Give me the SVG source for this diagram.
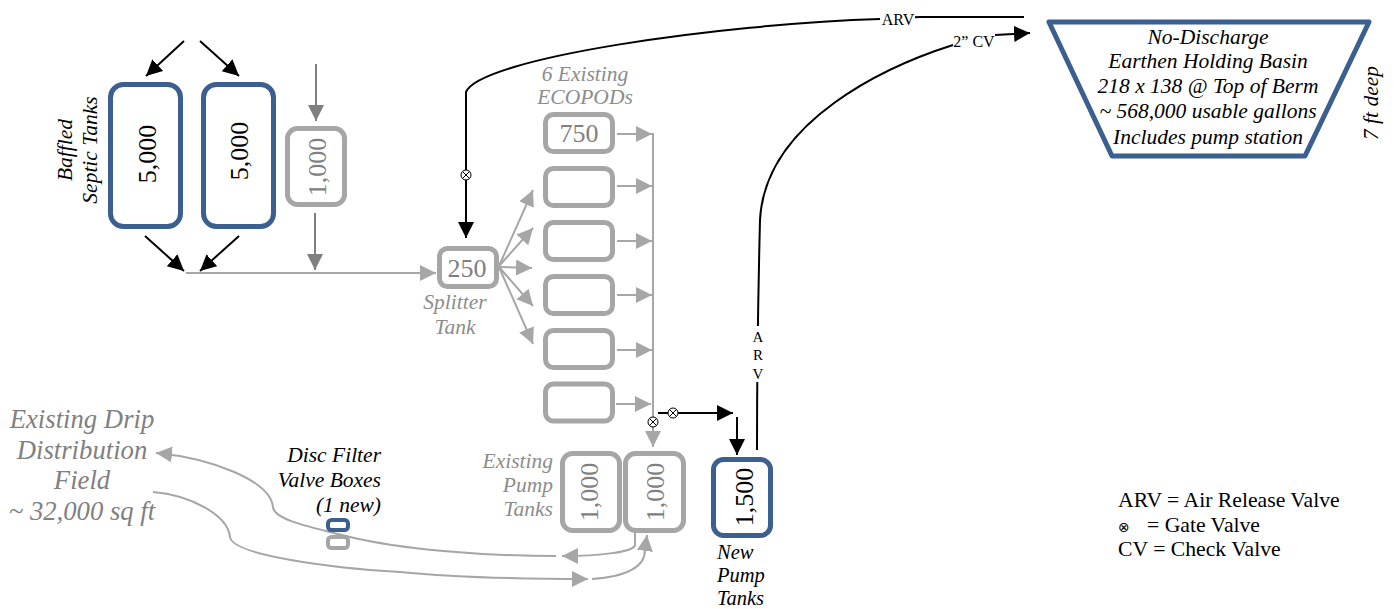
<svg xmlns="http://www.w3.org/2000/svg" width="1395" height="609" viewBox="0 0 1395 609">
<style>
text{font-family:"Liberation Serif","Times New Roman",serif}
.blue{fill:#fff;stroke:#3b5f8f;stroke-width:5}
.grey{fill:#fff;stroke:#a6a6a6;stroke-width:5}
.num{font-size:26px;text-anchor:middle;fill:#000}
.gn{fill:#808080}
.it{font-style:italic;font-size:21.5px;fill:#000}
.git{font-style:italic;font-size:21.5px;fill:#8c8c8c}
.mid{text-anchor:middle}
.end{text-anchor:end}
.k{fill:none;stroke:#000;stroke-width:2;marker-end:url(#ak)}
.kn{fill:none;stroke:#000;stroke-width:2}
.g{fill:none;stroke:#a6a6a6;stroke-width:2;marker-end:url(#ag)}
.gp{fill:none;stroke:#a6a6a6;stroke-width:2}
.d{fill:none;stroke:#7f7f7f;stroke-width:2;marker-end:url(#ad)}
.lab{font-size:16px;fill:#000;text-anchor:middle}
.bg{fill:#fff;stroke:none}
.v circle{fill:#fff;stroke:#000;stroke-width:1}
.v path{stroke:#000;stroke-width:1;fill:none}
</style>
<defs>
<marker id="ak" markerUnits="userSpaceOnUse" markerWidth="18" markerHeight="18" refX="16" refY="8" orient="auto"><path d="M0 0L16 8L0 16z" fill="#000"/></marker>
<marker id="ag" markerUnits="userSpaceOnUse" markerWidth="18" markerHeight="18" refX="16" refY="8" orient="auto"><path d="M0 0L16 8L0 16z" fill="#a6a6a6"/></marker>
<marker id="ad" markerUnits="userSpaceOnUse" markerWidth="18" markerHeight="18" refX="16" refY="8" orient="auto"><path d="M0 0L16 8L0 16z" fill="#7f7f7f"/></marker>
<g id="valve" class="v"><circle r="5"/><path d="M-3.500-3.500L3.500 3.500M-3.500 3.500L3.500-3.500"/></g>
</defs>
<g id="connectors">
<path class="k" d="M184 41L146 76"/>
<path class="k" d="M200 41L239 76"/>
<path class="k" d="M145 236L184 271"/>
<path class="k" d="M239 236L200 271"/>
<path class="d" d="M316 64V121"/>
<path class="d" d="M315 213V270"/>
<path class="g" d="M186 273H436"/>
<path class="k" d="M1024 17L920 17L880 19C720 24 480 58 466 92V238"/>
<rect class="bg" x="880" y="11" width="35" height="16"/>
<text class="lab" x="898" y="25">ARV</text>
<path class="kn" d="M757 450C757 380 758 300 760 220C765 120 890 65 953 45"/>
<path class="k" d="M995 35L1030 33"/>
<rect class="bg" x="752" y="326" width="13" height="56"/>
<text class="lab" x="758" y="342" style="font-size:15px">A</text>
<text class="lab" x="758" y="360" style="font-size:15px">R</text>
<text class="lab" x="758" y="379" style="font-size:15px">V</text>
<text class="lab" x="974" y="47">2” CV</text>
<path class="g" d="M499 266L533 190"/>
<path class="g" d="M499 266L533 228"/>
<path class="g" d="M499 267L532 268"/>
<path class="g" d="M499 267L533 306"/>
<path class="g" d="M499 267L533 344"/>
<path class="g" d="M617 134H652"/>
<path class="g" d="M617 186H652"/>
<path class="g" d="M617 241H652"/>
<path class="g" d="M617 295H652"/>
<path class="g" d="M617 350H652"/>
<path class="g" d="M616 404H651"/>
<path class="gp" d="M653 133V420"/>
<path class="g" d="M653 426V447"/>
<path class="k" d="M658 413H733"/>
<path class="k" d="M737 417V455"/>
<use href="#valve" x="466" y="175"/>
<use href="#valve" x="653" y="422"/>
<use href="#valve" x="673" y="413"/>
<path class="g" d="M635 533V545C634 552 600 556 562 556"/>
<path class="g" d="M556 556C480 556 400 549 350 537C310 527 274 520 273 507C270 480 210 458 156 453"/>
<path class="g" d="M153 492C190 495 228 515 230 537C232 555 330 568 400 572C450 577 520 579 588 579"/>
<path class="g" d="M592 579C620 577 645 570 645 550L647 535"/>
</g>
<g id="tank-septic-1"><rect class="blue" x="110.500" y="84.500" width="70" height="142" rx="13"/><text class="num" transform="translate(156 154) rotate(-90)">5,000</text></g>
<g id="tank-septic-2"><rect class="blue" x="203.500" y="84.500" width="70" height="142" rx="13"/><text class="num" transform="translate(248 151) rotate(-90)">5,000</text></g>
<g id="tank-1000"><rect class="grey" x="287.500" y="128.500" width="57" height="76" rx="10"/><text class="num gn" transform="translate(326 167) rotate(-90)">1,000</text></g>
<text class="it mid" transform="translate(72 150) rotate(-90)">Baffled</text>
<text class="it mid" transform="translate(97 150) rotate(-90)">Septic Tanks</text>
<g id="tank-splitter"><rect class="grey" x="439.500" y="248.500" width="57" height="38" rx="8"/><text class="num gn" x="467" y="277">250</text></g>
<text class="git mid" x="455" y="309">Splitter</text>
<text class="git mid" x="455" y="334">Tank</text>
<text class="git mid" x="585" y="81">6 Existing</text>
<text class="git mid" x="585" y="104">ECOPODs</text>
<g id="ecopod-1"><rect class="grey" x="545.500" y="114.500" width="67" height="37" rx="8"/><text class="num gn" x="579" y="142">750</text></g>
<g id="ecopod-2"><rect class="grey" x="545.500" y="168.500" width="67" height="37" rx="8"/></g>
<g id="ecopod-3"><rect class="grey" x="545.500" y="222.500" width="67" height="37" rx="8"/></g>
<g id="ecopod-4"><rect class="grey" x="545.500" y="276.500" width="67" height="37" rx="8"/></g>
<g id="ecopod-5"><rect class="grey" x="545.500" y="330.500" width="67" height="37" rx="8"/></g>
<g id="ecopod-6"><rect class="grey" x="545.500" y="384" width="67" height="37" rx="8"/></g>
<g id="pump-existing-1"><rect class="grey" x="562.500" y="453.500" width="57" height="77" rx="10"/><text class="num gn" transform="translate(598 492) rotate(-90)">1,000</text></g>
<g id="pump-existing-2"><rect class="grey" x="625.500" y="453.500" width="58" height="77" rx="10"/><text class="num gn" transform="translate(664 492) rotate(-90)">1,000</text></g>
<text class="git end" x="553" y="468">Existing</text>
<text class="git end" x="553" y="492">Pump</text>
<text class="git end" x="553" y="516">Tanks</text>
<g id="pump-new"><rect class="blue" x="713.500" y="459.500" width="57" height="76" rx="10"/><text class="num" transform="translate(753 497) rotate(-90)">1,500</text></g>
<text class="it" x="717" y="559" style="font-size:20.500px">New</text>
<text class="it" x="717" y="582" style="font-size:20.500px">Pump</text>
<text class="it" x="717" y="605" style="font-size:20.500px">Tanks</text>
<g id="valve-box-new"><rect x="328" y="520" width="20" height="10" rx="3.500" fill="#fff" stroke="#3b5f8f" stroke-width="4"/></g>
<g id="valve-box-old"><rect x="328" y="537" width="20" height="11" rx="3.500" fill="#fff" stroke="#a6a6a6" stroke-width="4"/></g>
<text class="it end" x="381" y="462">Disc Filter</text>
<text class="it end" x="381" y="487">Valve Boxes</text>
<text class="it end" x="381" y="512">(1 new)</text>
<g id="field" style="font-style:italic;font-size:26.700px;fill:#808080;text-anchor:middle">
<text x="82" y="428">Existing Drip</text>
<text x="82" y="459">Distribution</text>
<text x="82" y="489">Field</text>
<text x="82" y="520">~ 32,000 sq ft</text>
</g>
<g id="basin">
<path d="M1049 22H1369L1305 156H1112z" fill="#fff" stroke="#3b5f8f" stroke-width="5" stroke-linejoin="round"/>
<text class="it mid" x="1208" y="44">No-Discharge</text>
<text class="it mid" x="1208" y="68">Earthen Holding Basin</text>
<text class="it mid" x="1208" y="93">218 x 138 @ Top of Berm</text>
<text class="it mid" x="1208" y="118">~ 568,000 usable gallons</text>
<text class="it mid" x="1208" y="144">Includes pump station</text>
</g>
<text class="it mid" transform="translate(1378 103) rotate(-90)">7 ft deep</text>
<g id="legend" style="font-size:21.700px;fill:#000">
<text x="1118" y="507">ARV = Air Release Valve</text>
<text x="1118" y="532"><tspan font-size="14" style="font-family:'DejaVu Sans',sans-serif">⊗</tspan><tspan x="1147">= Gate Valve</tspan></text>
<text x="1118" y="556">CV = Check Valve</text>
</g>
</svg>
